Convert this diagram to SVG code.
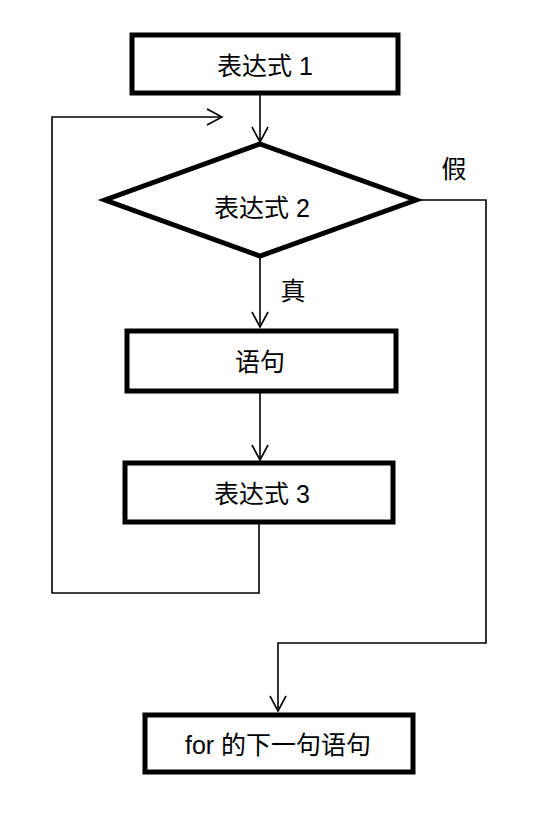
<svg xmlns="http://www.w3.org/2000/svg" width="556" height="830" viewBox="0 0 556 830">
<defs>
<marker id="arr" markerUnits="userSpaceOnUse" markerWidth="20" markerHeight="20" viewBox="-16 -10 20 20" refX="0" refY="0" orient="auto">
<path d="M-15,-8 L0,0 L-15,8" fill="none" stroke="#000" stroke-width="1.6"/>
</marker>
<style>
.box{fill:#fff;stroke:#000;stroke-width:5;stroke-linejoin:miter}
.ln{fill:none;stroke:#000;stroke-width:1.6}
.t{font-family:"Liberation Sans","Noto Sans CJK SC",sans-serif;font-size:25px;fill:#000;text-anchor:middle;dominant-baseline:central}
</style>
</defs>
<rect width="556" height="830" fill="#fff"/>
<g id="connectors">
<path class="ln" d="M260,95 L260,142" marker-end="url(#arr)"/>
<path class="ln" d="M260,258 L260,327" marker-end="url(#arr)"/>
<path class="ln" d="M260,393 L260,460" marker-end="url(#arr)"/>
<path class="ln" d="M259,524 L259,593 L52,593 L52,117 L222,117" marker-end="url(#arr)"/>
<path class="ln" d="M418,200 L486,200 L486,643 L278,643 L278,711" marker-end="url(#arr)"/>
</g>
<g id="n1"><rect class="box" x="132" y="35" width="266" height="58"/><text class="t" x="265" y="66">表达式 1</text></g>
<g id="n2"><polygon class="box" points="260,144 416,200 260,256 105,200"/><text class="t" x="262" y="208">表达式 2</text></g>
<g id="n3"><rect class="box" x="127" y="331" width="269" height="60"/><text class="t" x="260" y="362">语句</text></g>
<g id="n4"><rect class="box" x="125" y="463" width="268" height="59"/><text class="t" x="262" y="494">表达式 3</text></g>
<g id="n5"><rect class="box" x="145" y="715" width="268" height="57"/><text class="t" x="278" y="745">for 的下一句语句</text></g>
<g id="labels"><text class="t" x="454" y="169">假</text><text class="t" x="293" y="291">真</text></g>
</svg>
